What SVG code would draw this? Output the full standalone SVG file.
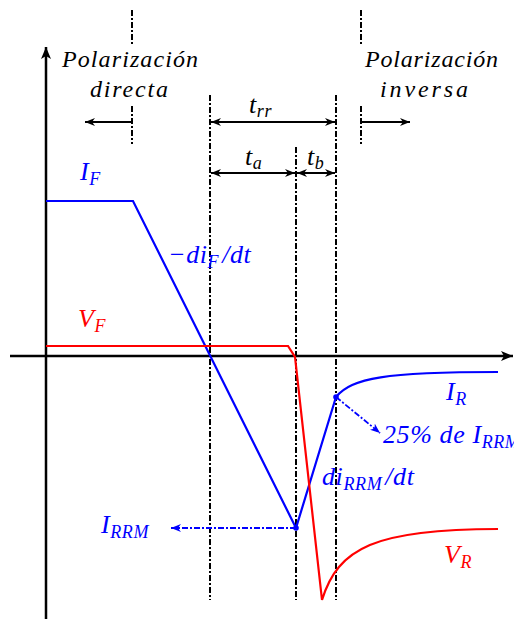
<svg xmlns="http://www.w3.org/2000/svg" width="514" height="619" viewBox="0 0 514 619">
<style>
text{font-family:"Liberation Serif","DejaVu Serif","Times New Roman",serif;font-style:italic}
.big{font-size:24px}
.lab{font-size:26px;letter-spacing:0.6px}
.sub{font-size:18px}
.dd{stroke:#000;stroke-width:2;stroke-dasharray:6 2 2 2;fill:none}
.ar{stroke:#000;stroke-width:2;fill:none}
.bl{stroke:#0000ff;stroke-width:2.2;fill:none}
.rd{stroke:#ff0000;stroke-width:2.2;fill:none}
.bdd{stroke:#0000ff;stroke-width:1.8;stroke-dasharray:6 2 2 2;fill:none}
</style>
<defs>
<marker id="ah" viewBox="0 0 10 8" refX="10" refY="4" markerWidth="10" markerHeight="8" markerUnits="userSpaceOnUse" orient="auto-start-reverse"><path d="M0,0 L10,4 L0,8 L3,4 Z" fill="#000"/></marker>
<marker id="axh" viewBox="0 0 12 10" refX="12" refY="5" markerWidth="12" markerHeight="10" markerUnits="userSpaceOnUse" orient="auto"><path d="M0,0 L12,5 L0,10 L3,5 Z" fill="#000"/></marker>
<marker id="bh" viewBox="0 0 10 8" refX="10" refY="4" markerWidth="10" markerHeight="8" markerUnits="userSpaceOnUse" orient="auto"><path d="M0,0 L10,4 L0,8 L3,4 Z" fill="#0000ff"/></marker>
</defs>
<g id="axes">
<line x1="46" y1="619" x2="46" y2="47" stroke="#000" stroke-width="2.5" marker-end="url(#axh)"/>
<line x1="10" y1="356" x2="513" y2="356" stroke="#000" stroke-width="2.5" marker-end="url(#axh)"/>
</g>
<g id="guides">
<line class="dd" x1="132" y1="10" x2="132" y2="44"/>
<line class="dd" x1="132" y1="106" x2="132" y2="144"/>
<line class="dd" x1="361" y1="10" x2="361" y2="44"/>
<line class="dd" x1="361" y1="106" x2="361" y2="144"/>
<line class="dd" x1="210" y1="95" x2="210" y2="600"/>
<line class="dd" x1="296" y1="147" x2="296" y2="600"/>
<line class="dd" x1="336" y1="95" x2="336" y2="600"/>
</g>
<g id="connectors">
<line class="ar" x1="132" y1="122" x2="85" y2="122" marker-end="url(#ah)"/>
<line class="ar" x1="361" y1="122" x2="410" y2="122" marker-end="url(#ah)"/>
<line class="ar" x1="211" y1="122" x2="335" y2="122" marker-start="url(#ah)" marker-end="url(#ah)"/>
<line class="ar" x1="211" y1="173" x2="295" y2="173" marker-start="url(#ah)" marker-end="url(#ah)"/>
<line class="ar" x1="297" y1="173" x2="335" y2="173" marker-start="url(#ah)" marker-end="url(#ah)"/>
<line class="bdd" x1="296" y1="528" x2="171" y2="528" marker-end="url(#bh)"/>
<line class="bdd" x1="336" y1="397" x2="380" y2="433" marker-end="url(#bh)"/>
</g>
<g id="current">
<path class="bl" d="M46,201 L133,201 L296,528 L336,397 C352,378 385,372 498,372"/>
<circle cx="296" cy="528" r="2.8" fill="#0000ff"/>
<circle cx="336" cy="397" r="2.8" fill="#0000ff"/>
</g>
<g id="voltage">
<path class="rd" d="M46,346 L288,346 L295,357 L322,600 C338,548 375,529 498,529"/>
</g>
<g id="labels">
<text class="big" x="62" y="67" textLength="136" lengthAdjust="spacing">Polarización</text>
<text class="big" x="90" y="97" textLength="78" lengthAdjust="spacing">directa</text>
<text class="big" x="365" y="67" textLength="133" lengthAdjust="spacing">Polarización</text>
<text class="big" x="380" y="97" textLength="88" lengthAdjust="spacing">inversa</text>
<text class="lab" x="249" y="113">t<tspan class="sub" dy="4">rr</tspan></text>
<text class="lab" x="245" y="165">t<tspan class="sub" dy="4">a</tspan></text>
<text class="lab" x="307" y="165">t<tspan class="sub" dy="4">b</tspan></text>
<text class="lab" x="80" y="180" fill="#0000ff">I<tspan class="sub" dy="5">F</tspan></text>
<text class="lab" x="168" y="263" fill="#0000ff">−di<tspan class="sub" dy="5">F</tspan><tspan dx="3" dy="-5">/dt</tspan></text>
<text class="lab" x="78" y="327" fill="#ff0000">V<tspan class="sub" dy="5">F</tspan></text>
<text class="lab" x="446" y="400" fill="#0000ff">I<tspan class="sub" dy="5">R</tspan></text>
<text class="lab" x="383" y="443" fill="#0000ff">25% de I<tspan class="sub" dy="5">RRM</tspan></text>
<text class="lab" x="322" y="485" fill="#0000ff">di<tspan class="sub" dy="5">RRM</tspan><tspan dx="3" dy="-5">/dt</tspan></text>
<text class="lab" x="101" y="533" fill="#0000ff">I<tspan class="sub" dy="5">RRM</tspan></text>
<text class="lab" x="444" y="563" fill="#ff0000">V<tspan class="sub" dy="5">R</tspan></text>
</g>
</svg>
